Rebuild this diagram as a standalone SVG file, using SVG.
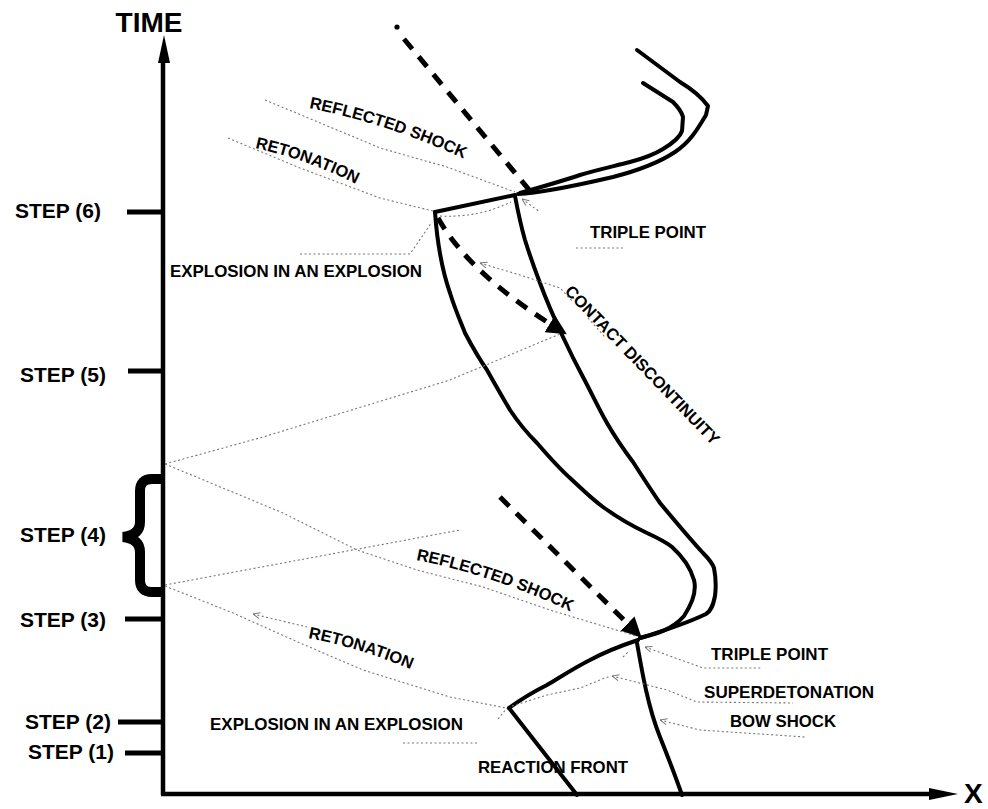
<svg xmlns="http://www.w3.org/2000/svg" width="988" height="809" viewBox="0 0 988 809">
<style>
text{font-family:"Liberation Sans",Arial,Helvetica,sans-serif;font-weight:bold;fill:#000}
.lbl{font-size:16.5px}
.step{font-size:21px}
.big{font-size:28px}
.curve{fill:none;stroke:#000;stroke-width:4;stroke-linejoin:round;stroke-linecap:round}
.dash{fill:none;stroke:#000;stroke-width:5;stroke-dasharray:13 10}
.lead{fill:none;stroke:#777;stroke-width:1.1;stroke-dasharray:2 2.5}
.tick{stroke:#000;stroke-width:5}
.axis{stroke:#000;stroke-width:4.5;fill:none}
</style>
<defs>
<marker id="ah" viewBox="0 0 10 10" refX="6" refY="5" markerWidth="4" markerHeight="4" orient="auto" markerUnits="strokeWidth">
<path d="M0,0 L10,5 L0,10 Z" fill="#000"/>
</marker>
<marker id="tip" viewBox="0 0 8 8" refX="0" refY="4" markerWidth="8" markerHeight="8" orient="auto" markerUnits="userSpaceOnUse">
<path d="M7,1 L0,4 L7,7" fill="none" stroke="#777" stroke-width="1"/>
</marker>
<path id="p-refl-up" d="M309,108 Q390,124 471,162"/>
<path id="p-reton-up" d="M255,148 Q310,160 364,188"/>
<path id="p-refl-lo" d="M416,560 Q497,576 578,615"/>
<path id="p-reton-lo" d="M308,638 Q365,649 419,673"/>
</defs>

<g id="axes">
<line class="axis" x1="163" y1="795" x2="163" y2="58"/>
<path d="M164,35 L158,63 L170,63 Z" fill="#000"/>
<line class="axis" x1="161" y1="794" x2="932" y2="794" stroke-width="5"/>
<path d="M958,794 L929,788 L929,800 Z" fill="#000"/>
<text class="big" x="149" y="32" text-anchor="middle">TIME</text>
<text class="big" x="964" y="803" font-size="27">X</text>
</g>

<g id="steps">
<g id="step6"><line class="tick" x1="127" y1="212" x2="163" y2="212"/><text class="step" x="15" y="218">STEP (6)</text></g>
<g id="step5"><line class="tick" x1="128" y1="371" x2="163" y2="371"/><text class="step" x="20" y="382">STEP (5)</text></g>
<g id="step4"><path d="M163,479 H152 Q140,479 140,491 V522 Q140,535 123,537 Q140,539 140,552 V580 Q140,592 152,592 H163" fill="none" stroke="#000" stroke-width="10"/><text class="step" x="20" y="542">STEP (4)</text></g>
<g id="step3"><line class="tick" x1="125" y1="619" x2="163" y2="619"/><text class="step" x="20" y="627">STEP (3)</text></g>
<g id="step2"><line class="tick" x1="118" y1="722" x2="161" y2="722"/><text class="step" x="25" y="729">STEP (2)</text></g>
<g id="step1"><line class="tick" x1="125" y1="753" x2="161" y2="753"/><text class="step" x="28" y="759">STEP (1)</text></g>
</g>

<g id="connectors">
<!-- fronts -->
<path class="curve" d="M435,212 L515,195"/>
<path class="curve" d="M435,212 C437,240 442,270 450,293 C456,312 462,325 465,333 C474,350 480,360 487,370 C497,388 503,398 510,410 C520,425 528,434 537,443 C550,458 560,469 570,478 C583,490 592,499 603,507 C618,518 632,526 647,533 C660,539 666,542 672,547 C682,556 690,566 694,580 C697,592 692,604 684,616 C672,630 655,634 640,638"/>
<path class="curve" d="M515,196 C518,212 521,226 525,240 C530,256 535,270 540,283 C547,302 555,320 563,337 C570,352 576,364 583,377 C592,394 599,409 607,423 C615,437 624,450 633,462 C642,476 651,490 660,503 C675,521 690,539 703,553 C708,558 712,562 714,568 C716,578 716,588 715,596 C713,606 711,611 706,614 C685,624 660,632 640,638"/>
<path class="curve" d="M518,194 C540,193 570,187 613,177 C640,170 660,162 675,152 C690,142 697,130 706,115 L708,106 C700,95 690,88 680,82 L637,50"/>
<path class="curve" d="M520,193 C545,186 565,180 580,175 C600,169 615,166 630,162 C645,158 655,154 663,149 C673,143 680,137 682,131 L683,117 C681,110 677,106 673,102 L643,83"/>
<path class="curve" d="M509,708 C520,700 535,691 547,685 C562,676 576,667 590,660 C605,652 620,646 638,640"/>
<path class="curve" d="M509,708 L577,795"/>
<path class="curve" d="M637,643 C640,660 643,677 646,690 C650,708 654,722 660,737 C668,757 675,775 682,795"/>
<!-- shocks -->
<circle cx="397" cy="27" r="2.6" fill="#000"/>
<path class="dash" d="M404,39 L530,191" stroke-dasharray="12 10"/>
<path class="dash" d="M438,218 Q470,275 560,330" marker-end="url(#ah)"/>
<path class="dash" d="M500,497 L636,632" stroke-dasharray="14 9" marker-end="url(#ah)"/>
<!-- leaders -->
<polyline class="lead" points="265,100 330,127 380,148 447,167 515,192"/>
<polyline class="lead" points="228,138 300,168 380,198 433,211"/>
<polyline class="lead" points="300,254 410,254 432,222"/>
<path class="lead" d="M440,216 Q478,218 511,202"/>
<line class="lead" x1="522" y1="199" x2="540" y2="212" marker-start="url(#tip)"/>
<line class="lead" x1="576" y1="248" x2="625" y2="248"/>
<polyline class="lead" points="480,263 520,275 560,288 573,302" marker-start="url(#tip)"/>
<line class="lead" x1="588" y1="318" x2="605" y2="337"/>
<polyline class="lead" points="165,464 263,437 450,380 560,334"/>
<polyline class="lead" points="165,464 283,513 357,550 417,570 483,587 550,610 636,636"/>
<polyline class="lead" points="165,585 460,530"/>
<polyline class="lead" points="165,586 233,613 300,643 363,670 450,697 506,708"/>
<line class="lead" x1="253" y1="614" x2="307" y2="627" marker-start="url(#tip)"/>
<polyline class="lead" points="403,743 478,743"/>
<line class="lead" x1="498" y1="719" x2="507" y2="708"/>
<polyline class="lead" points="512,706 547,695 580,688 610,676"/>
<line class="lead" x1="623" y1="657" x2="629" y2="651"/>
<polyline class="lead" points="612,676 667,690 697,702 793,703" marker-start="url(#tip)"/>
<polyline class="lead" points="645,647 703,668 762,668" marker-start="url(#tip)"/>
<polyline class="lead" points="660,720 700,730 805,737" marker-start="url(#tip)"/>
</g>

<g id="labels">
<g id="lbl-refl-up"><text class="lbl"><textPath href="#p-refl-up">REFLECTED SHOCK</textPath></text></g>
<g id="lbl-reton-up"><text class="lbl"><textPath href="#p-reton-up">RETONATION</textPath></text></g>
<g id="lbl-expl-up"><text class="lbl" x="170" y="277" textLength="252" lengthAdjust="spacingAndGlyphs">EXPLOSION IN AN EXPLOSION</text></g>
<g id="lbl-tp-up"><text class="lbl" x="590" y="238" textLength="116" lengthAdjust="spacingAndGlyphs">TRIPLE POINT</text></g>
<g id="lbl-cd"><text class="lbl" transform="translate(564,292) rotate(46)" textLength="214" lengthAdjust="spacingAndGlyphs">CONTACT DISCONTINUITY</text></g>
<g id="lbl-refl-lo"><text class="lbl"><textPath href="#p-refl-lo">REFLECTED SHOCK</textPath></text></g>
<g id="lbl-reton-lo"><text class="lbl"><textPath href="#p-reton-lo">RETONATION</textPath></text></g>
<g id="lbl-expl-lo"><text class="lbl" x="210" y="730" textLength="253" lengthAdjust="spacingAndGlyphs">EXPLOSION IN AN EXPLOSION</text></g>
<g id="lbl-tp-lo"><text class="lbl" x="711" y="660" textLength="117" lengthAdjust="spacingAndGlyphs">TRIPLE POINT</text></g>
<g id="lbl-sd"><text class="lbl" x="704" y="698" textLength="170" lengthAdjust="spacingAndGlyphs">SUPERDETONATION</text></g>
<g id="lbl-bow"><text class="lbl" x="730" y="727" textLength="106" lengthAdjust="spacingAndGlyphs">BOW SHOCK</text></g>
<g id="lbl-rf"><text class="lbl" x="478" y="773" textLength="150" lengthAdjust="spacingAndGlyphs">REACTION FRONT</text></g>
</g>
</svg>
